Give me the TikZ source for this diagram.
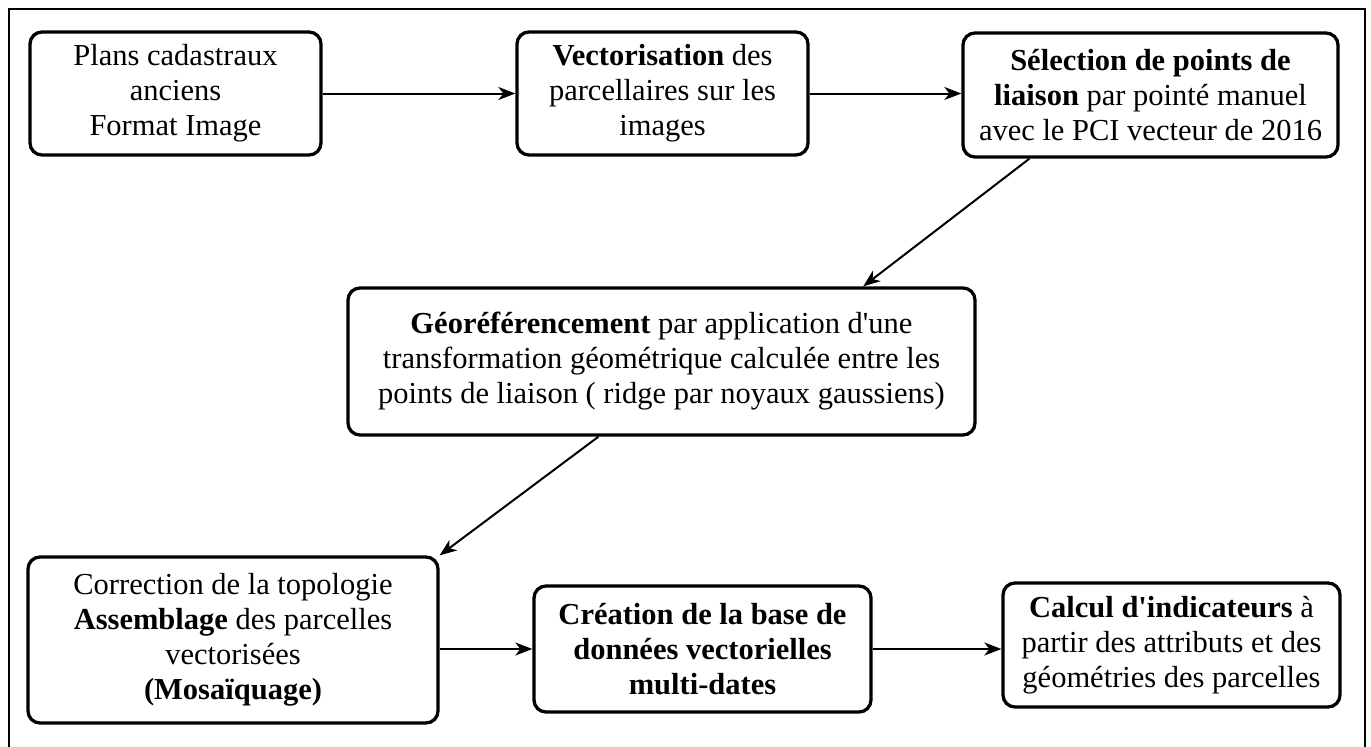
\documentclass[tikz,border=0pt]{standalone}
\usepackage{fontspec}
\setmainfont{Liberation Serif}
\usetikzlibrary{shapes, arrows, arrows.meta, positioning, calc}
\tikzset{every node/.style={font=\fontsize{30.5}{35}\selectfont}}

\begin{document}
\begin{tikzpicture}[x=1pt, y=-1pt]
  \tikzstyle{stepbox} = [rectangle, rounded corners=12pt, line width=3.3pt, draw=black, align=center, inner sep=2pt]
  \tikzstyle{arrow} = [line width=2pt, -{Stealth[length=17pt, width=13pt, inset=5pt]}]
  \useasboundingbox (0,0) rectangle (1371,747);
  % open frame
  \draw [line width=2pt] (9,747) -- (9,9) -- (1365,9) -- (1365,747);
  \node (plans) [stepbox, minimum width=291pt, minimum height=123pt] at (175.5,93.5) {Plans cadastraux\\ anciens\\ Format Image};
  \node (vector) [stepbox, minimum width=291pt, minimum height=123pt] at (662.5,93.5) {\textbf{Vectorisation} des\\ parcellaires sur les\\ images};
  \node (selection) [stepbox, minimum width=375pt, minimum height=124pt] at (1150.5,95) {\textbf{Sélection de points de}\\ \textbf{liaison} par pointé manuel\\ avec le PCI vecteur de 2016};
  \node (georef) [stepbox, minimum width=627pt, minimum height=147pt] at (661.5,361.5) {\textbf{Géoréférencement} par application d\textquotesingle une\\ transformation géométrique calculée entre les\\ points de liaison ( ridge par noyaux gaussiens)};
  \node (correction) [stepbox, minimum width=410pt, minimum height=166pt] at (233,640) {Correction de la topologie\\ \textbf{Assemblage} des parcelles\\ vectorisées\\ \textbf{(Mosaïquage)}};
  \node (creation) [stepbox, minimum width=337pt, minimum height=126pt] at (702.5,649) {\textbf{Création de la base de}\\ \textbf{données vectorielles}\\ \textbf{multi-dates}};
  \node (calcul) [stepbox, minimum width=337pt, minimum height=124pt] at (1171.5,645) {\textbf{Calcul d\textquotesingle indicateurs} à\\ partir des attributs et des\\ géométries des parcelles};
  \draw [arrow] (plans) -- (vector);
  \draw [arrow] (vector.east) -- (selection.west |- vector.east);
  \draw [arrow] ($(selection.south west)!0.18!(selection.south east)$) -- ($(georef.north west)!0.82!(georef.north east)$);
  \draw [arrow] ($(georef.south west)!0.4!(georef.south east)$) -- (correction.north east);
  \draw [arrow] (correction.east |- creation.west) -- (creation.west);
  \draw [arrow] (creation.east) -- (calcul.west |- creation.east);
\end{tikzpicture}
\end{document}
